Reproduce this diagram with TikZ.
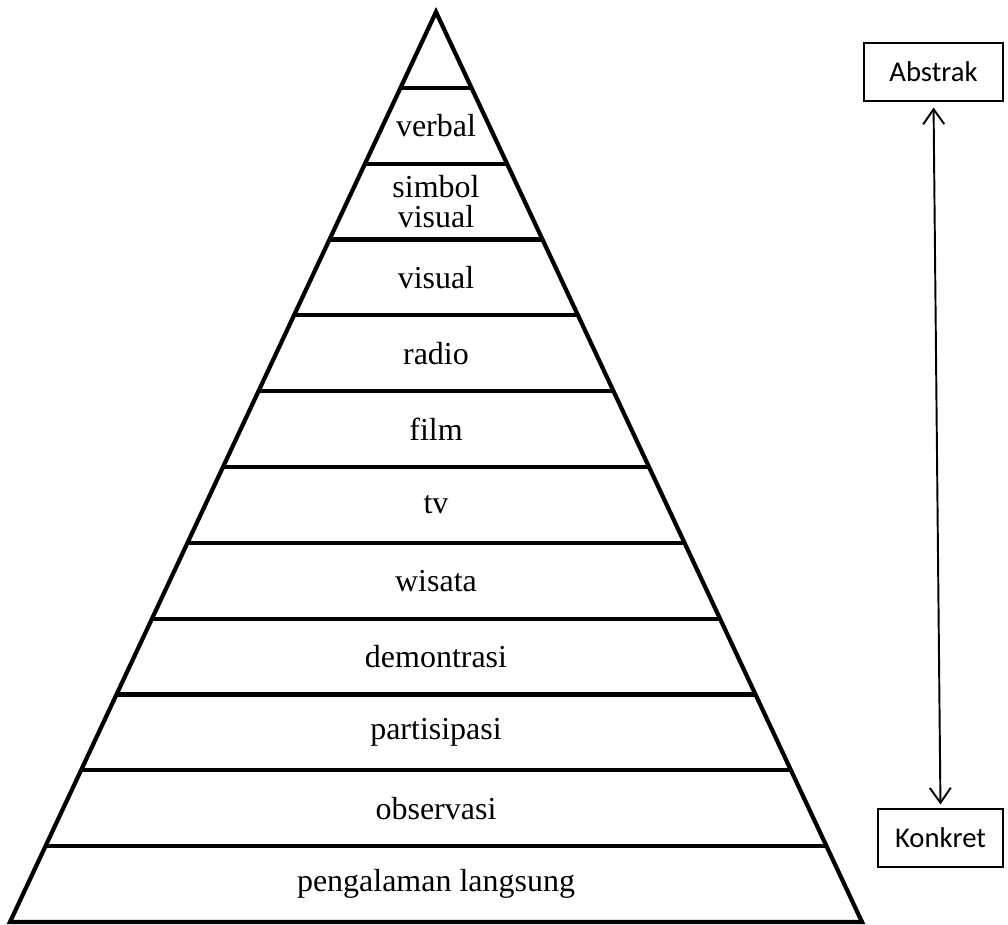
\documentclass[tikz,border=0pt]{standalone}
\usepackage{fontspec}
\setmainfont{Liberation Serif}
\newfontfamily\boxfont{Carlito}
\usetikzlibrary{arrows.meta,calc}

\begin{document}
\begin{tikzpicture}[
  x=0.02cm,
  y=-0.02cm,
  line join=miter,
  level/.style={font=\fontsize{18.2}{19}\selectfont,align=center,inner sep=0pt},
  endbox/.style={draw,line width=0.6pt,font=\boxfont\fontsize{16.3}{18}\selectfont,
    minimum height=1.16cm,inner sep=0pt},
  side/.style={line width=2.4pt},
  scalearrow/.style={line width=1.1pt,{Straight Barb[length=0.3cm,width=0.42cm]}-{Straight Barb[length=0.3cm,width=0.42cm]}}
]

\useasboundingbox (0,0) rectangle (1008,925);

% ------------------------------------------------------------------
% Pyramid
% ------------------------------------------------------------------
\coordinate (top) at (436,12);
\coordinate (bl) at (10,922);
\coordinate (br) at (862,922);

\draw[side] (bl) -- (top) -- (br) -- cycle;
\foreach \k in {1,...,11}
  \draw[side] ($(top)!\k/12!(bl)$) -- ($(top)!\k/12!(br)$);

\foreach \k/\t in {1/verbal,2/{simbol\\[-2pt]visual},3/visual,4/radio,5/film,6/tv,
                   7/wisata,8/demontrasi,9/partisipasi,10/observasi,11/pengalaman langsung}
  \node[level] (lvl\k) at (436,{12+75.83*(\k+0.5)}) {\t};

% ------------------------------------------------------------------
% Abstract--concrete scale
% ------------------------------------------------------------------
\node[endbox,minimum width=2.78cm] (abstrak) at (933.5,72) {Abstrak};
\node[endbox,minimum width=2.5cm] (konkret) at (940.5,838) {Konkret};

\draw[scalearrow,shorten <=0.12cm,shorten >=0.08cm] (abstrak.south) -- (konkret.north);

\end{tikzpicture}
\end{document}
